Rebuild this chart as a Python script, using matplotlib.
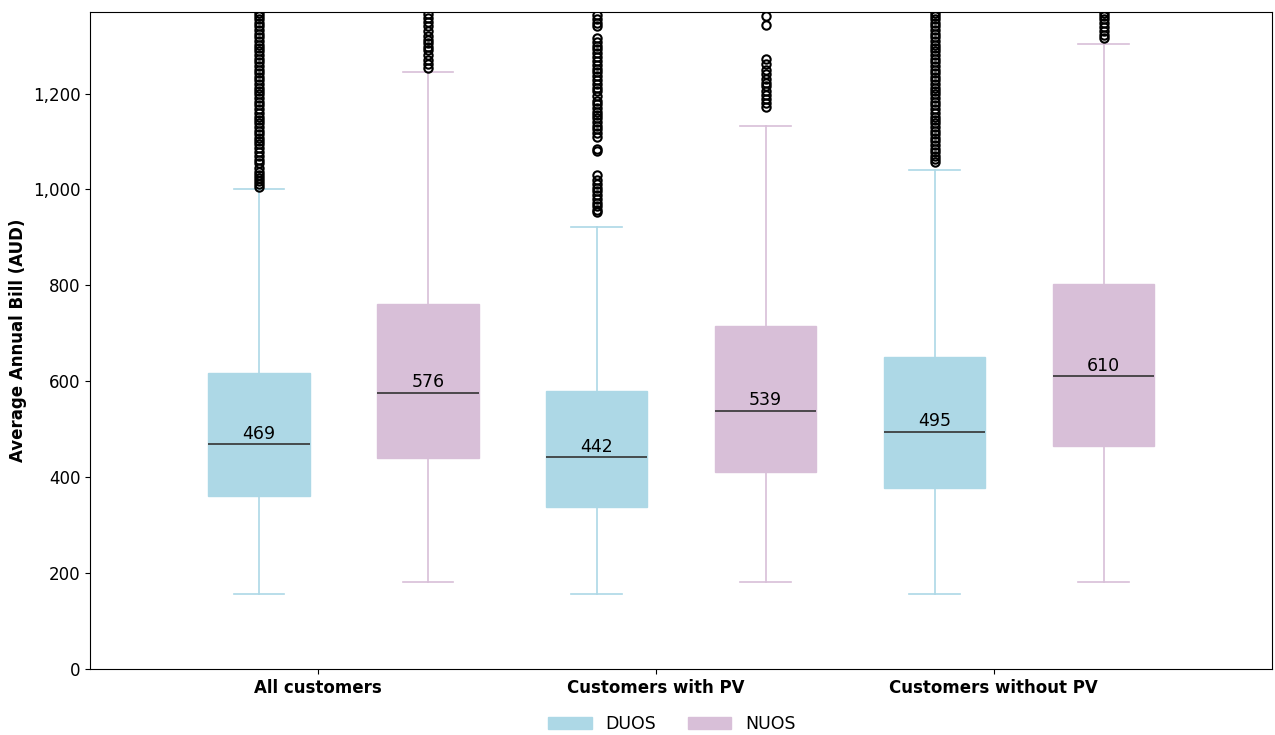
import matplotlib
matplotlib.use("Agg")
import matplotlib.pyplot as plt
import matplotlib.ticker as mticker
from matplotlib.patches import Patch

# groups and tariffs
groups = ["All customers", "Customers with PV", "Customers without PV"]
tariffs = ["DUOS", "NUOS"]
colors = {"DUOS": "#add8e6", "NUOS": "#d8bfd8"}

# box statistics (order: group x tariff)
q1 = [360, 440, 337, 410, 377, 465]
med = [469, 576, 442, 539, 495, 610]
q3 = [617, 762, 579, 715, 650, 802]
whislo = [156, 181, 156, 181, 156, 181]
whishi = [1000, 1244, 921, 1133, 1040, 1304]

fliers = [
    [1006, 1012, 1018, 1024, 1030, 1036, 1045, 1055, 1062, 1070, 1078, 1086,
     1094, 1100, 1108, 1115, 1122, 1130, 1138, 1145, 1152, 1160, 1168, 1175,
     1182, 1190, 1198, 1205, 1212, 1220, 1228, 1235, 1242, 1250, 1258, 1265,
     1272, 1280, 1288, 1295, 1302, 1310, 1318, 1325, 1332, 1340, 1348, 1355,
     1362, 1368],
    [1253, 1262, 1270, 1280, 1290, 1298, 1305, 1312, 1320, 1330, 1340, 1350,
     1358, 1365],
    [952, 958, 965, 972, 980, 988, 996, 1004, 1012, 1020, 1030, 1080, 1085,
     1110, 1118, 1125, 1132, 1140, 1148, 1155, 1162, 1170, 1178, 1185, 1195,
     1205, 1212, 1220, 1228, 1236, 1245, 1252, 1260, 1268, 1276, 1284, 1292,
     1300, 1308, 1315, 1340, 1348, 1356, 1364],
    [1172, 1180, 1188, 1196, 1205, 1215, 1222, 1230, 1240, 1250, 1262, 1272,
     1342, 1362],
    [1058, 1064, 1070, 1078, 1085, 1092, 1100, 1108, 1115, 1122, 1130, 1138,
     1145, 1152, 1160, 1168, 1175, 1182, 1190, 1198, 1205, 1212, 1220, 1228,
     1235, 1242, 1250, 1258, 1265, 1272, 1280, 1288, 1295, 1302, 1310, 1318,
     1325, 1332, 1340, 1348, 1355, 1362, 1368],
    [1316, 1322, 1330, 1338, 1346, 1355, 1362, 1368],
]

fig = plt.figure(figsize=(12.75, 7.35), dpi=100)
ax = fig.add_axes([0.0706, 0.0898, 0.9274, 0.8939])

offsets = [-0.35, 0.65]
positions = []
stats = []
k = 0
for g in range(len(groups)):
    for t in range(len(tariffs)):
        positions.append(2 * g + offsets[t])
        stats.append(dict(q1=q1[k], med=med[k], q3=q3[k], whislo=whislo[k],
                          whishi=whishi[k], fliers=fliers[k]))
        k += 1

for i, (pos, st) in enumerate(zip(positions, stats)):
    c = colors[tariffs[i % 2]]
    ax.bxp([st], positions=[pos], widths=0.6, patch_artist=True,
           showfliers=True,
           boxprops=dict(facecolor=c, edgecolor=c, linewidth=1),
           whiskerprops=dict(color=c, linewidth=1.2),
           capprops=dict(color=c, linewidth=1.2),
           medianprops=dict(color="#333333", linewidth=1.2),
           flierprops=dict(marker="o", markerfacecolor="none",
                           markeredgecolor="black", markersize=6,
                           markeredgewidth=1.5))
    ax.text(pos, st["med"] + 3, f"{st['med']:.0f}", ha="center", va="bottom",
            fontsize=12.5)

ax.set_xlim(-1.35, 5.65)
ax.set_ylim(0, 1370)
ax.set_xticks([0, 2, 4])
ax.set_xticklabels(groups, fontsize=12, fontweight="bold")
ax.yaxis.set_major_formatter(mticker.StrMethodFormatter("{x:,.0f}"))
ax.tick_params(axis="y", labelsize=12)
ax.set_ylabel("Average Annual Bill (AUD)", fontsize=12, fontweight="bold")

handles = [Patch(facecolor=colors[t], edgecolor=colors[t], label=t) for t in tariffs]
fig.legend(handles=handles, loc="center", bbox_to_anchor=(0.527, 0.015),
           ncol=2, frameon=False, fontsize=12.5, handlelength=2.5,
           columnspacing=1.8)

fig.savefig("out.png", dpi=100)
